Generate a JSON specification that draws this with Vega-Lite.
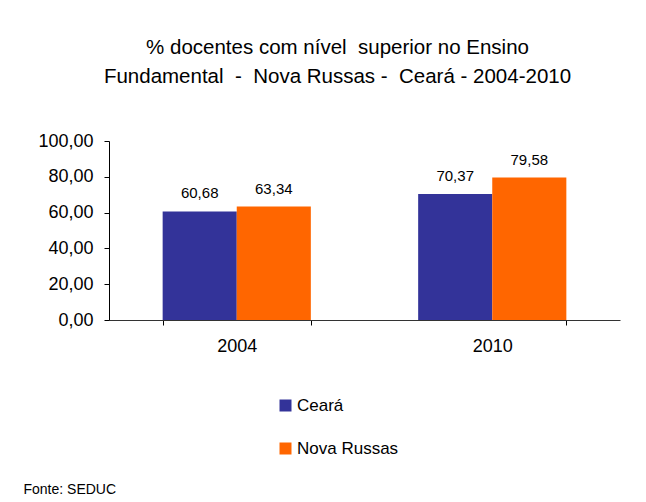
{
  "$schema": "https://vega.github.io/schema/vega-lite/v6.json",
  "width": 511,
  "height": 179,
  "autosize": {"type": "none"},
  "padding": {"left": 109, "top": 141, "right": 26, "bottom": 182},
  "background": "white",
  "title": {
    "text": ["% docentes com nível\u00a0 superior no Ensino", "Fundamental\u00a0 -\u00a0 Nova Russas -\u00a0 Ceará - 2004-2010"],
    "font": "Liberation Sans",
    "fontSize": 20.5,
    "fontWeight": "normal",
    "color": "#000000",
    "anchor": "middle",
    "dx": -27,
    "offset": 45,
    "lineHeight": 29
  },
  "data": {
    "values": [
      {"ano": "2004", "local": "Ceará", "valor": 60.68},
      {"ano": "2004", "local": "Nova Russas", "valor": 63.34},
      {"ano": "2010", "local": "Ceará", "valor": 70.37},
      {"ano": "2010", "local": "Nova Russas", "valor": 79.58}
    ]
  },
  "encoding": {
    "x": {
      "field": "ano",
      "type": "nominal",
      "scale": {"paddingInner": 0.42, "paddingOuter": 0.21},
      "axis": {
        "title": "Fonte: SEDUC",
        "titleFont": "Liberation Sans",
        "titleFontSize": 14,
        "titleFontWeight": "normal",
        "titleColor": "#000000",
        "titleAnchor": "start",
        "titleAlign": "left",
        "titleBaseline": "alphabetic",
        "titleX": -86,
        "titleY": 173,
        "labelAngle": 0,
        "labelFont": "Liberation Sans",
        "labelFontSize": 18,
        "labelColor": "#000000",
        "labelPadding": 12,
        "tickBand": "extent",
        "tickSize": 5,
        "tickColor": "#000000",
        "domainColor": "#333333",
        "grid": false
      }
    },
    "xOffset": {"field": "local", "type": "nominal", "sort": ["Ceará", "Nova Russas"]},
    "y": {
      "field": "valor",
      "type": "quantitative",
      "scale": {"domain": [0, 100]},
      "axis": {
        "title": null,
        "values": [0, 20, 40, 60, 80, 100],
        "format": ".2f",
        "labelFont": "Liberation Sans",
        "labelFontSize": 18,
        "labelColor": "#000000",
        "labelPadding": 11,
        "tickSize": 5,
        "tickColor": "#000000",
        "domainColor": "#000000",
        "grid": false
      }
    }
  },
  "layer": [
    {
      "mark": {"type": "bar"},
      "encoding": {
        "color": {
          "field": "local",
          "type": "nominal",
          "sort": ["Ceará", "Nova Russas"],
          "scale": {"domain": ["Ceará", "Nova Russas"], "range": ["#333399", "#FF6600"]},
          "legend": {
            "title": null,
            "orient": "none",
            "legendX": 168,
            "legendY": 256,
            "direction": "vertical",
            "symbolType": "square",
            "symbolSize": 144,
            "symbolStrokeWidth": 0,
            "symbolOpacity": 1,
            "labelFont": "Liberation Sans",
            "labelFontSize": 17,
            "labelColor": "#000000",
            "labelOffset": 3,
            "rowPadding": 25,
            "padding": 0
          }
        }
      }
    },
    {
      "mark": {"type": "text", "font": "Liberation Sans", "fontSize": 15, "color": "#000000", "baseline": "alphabetic", "dy": -13},
      "encoding": {
        "text": {"field": "valor", "type": "quantitative", "format": ".2f"}
      }
    }
  ],
  "config": {
    "view": {"stroke": null},
    "locale": {
      "number": {"decimal": ",", "thousands": ".", "grouping": [3], "currency": ["R$", ""]}
    }
  }
}
